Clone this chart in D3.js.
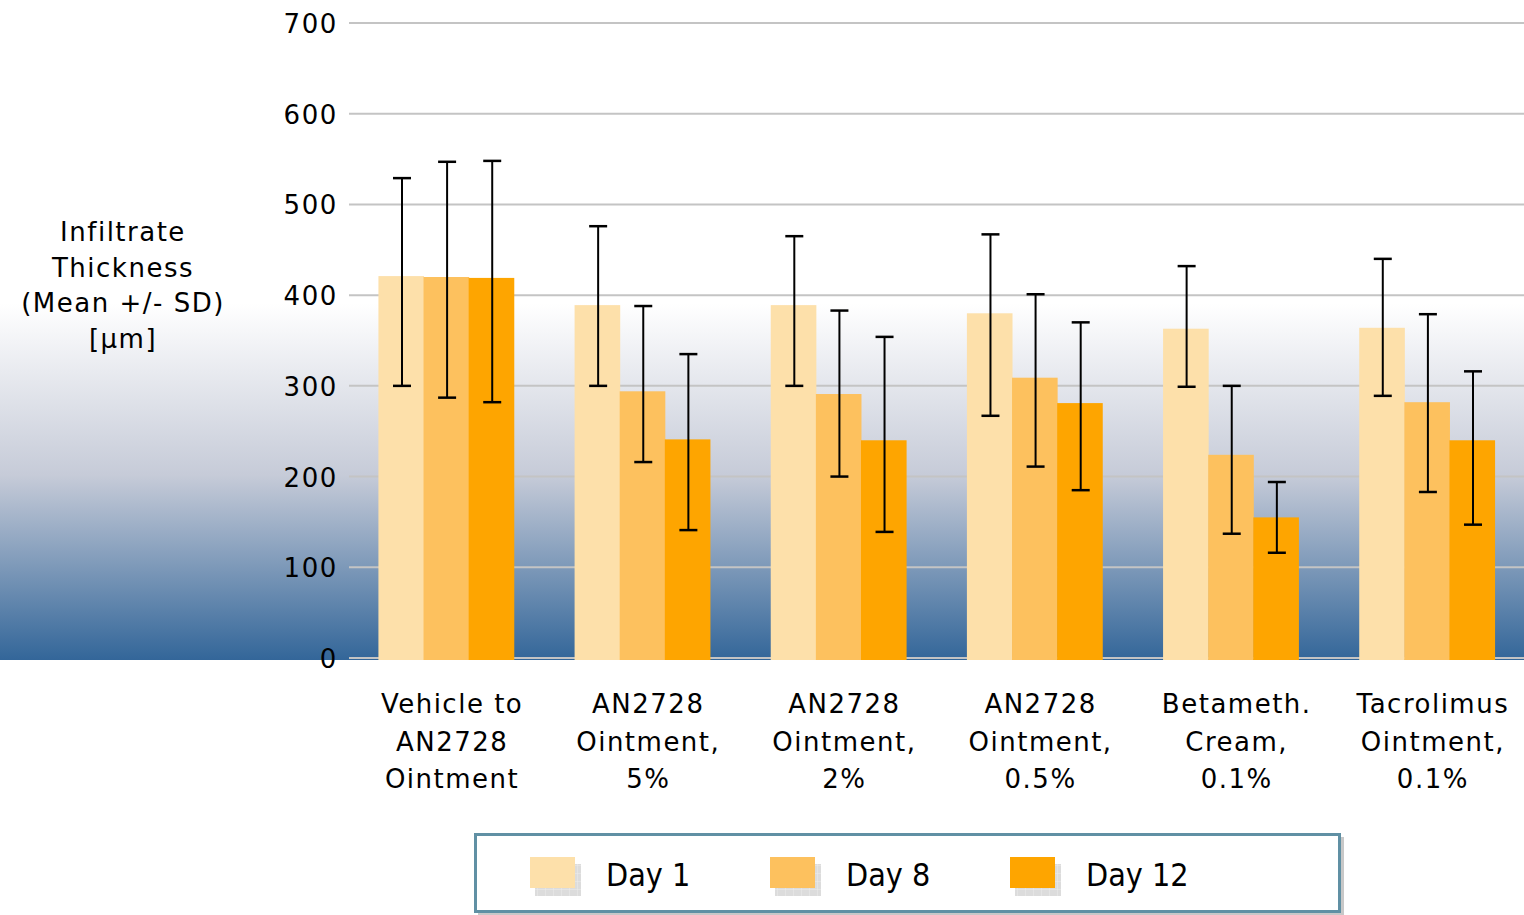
<!DOCTYPE html>
<html>
<head>
<meta charset="utf-8">
<script src="https://cdn.jsdelivr.net/npm/d3@7"></script>
<style>
  body { margin: 0; background: #fff; }
  svg { display: block; }
</style>
</head>
<body>
<svg width="1524" height="915"></svg>
<script>
(function() {

  var categories = [
    ["Vehicle to", "AN2728", "Ointment"],
    ["AN2728", "Ointment,", "5%"],
    ["AN2728", "Ointment,", "2%"],
    ["AN2728", "Ointment,", "0.5%"],
    ["Betameth.", "Cream,", "0.1%"],
    ["Tacrolimus", "Ointment,", "0.1%"]
  ];
  var seriesNames = ["Day 1", "Day 8", "Day 12"];
  var colors = ["#fde0aa", "#fdc15e", "#fea500"];

  // mean values per series
  var day1 = [421, 389, 389, 380, 363, 364];
  var day8 = [420, 294, 291, 309, 224, 282];
  var day12 = [419, 241, 240, 281, 155, 240];
  // error bar ends (upper / lower)
  var day1Hi = [529, 476, 465, 467, 432, 440];
  var day1Lo = [300, 300, 300, 267, 299, 289];
  var day8Hi = [547, 388, 383, 401, 300, 379];
  var day8Lo = [287, 216, 200, 211, 137, 183];
  var day12Hi = [548, 335, 354, 370, 194, 316];
  var day12Lo = [282, 141, 139, 185, 116, 147];

  var yTicks = [0, 100, 200, 300, 400, 500, 600, 700];

  var series = [
    {name: seriesNames[0], values: day1, hi: day1Hi, lo: day1Lo},
    {name: seriesNames[1], values: day8, hi: day8Hi, lo: day8Lo},
    {name: seriesNames[2], values: day12, hi: day12Hi, lo: day12Lo}
  ];

  var svg = d3.select('svg');
  var font = 'Verdana, "DejaVu Sans", sans-serif';

  // background gradient
  var defs = svg.append('defs');
  var grad = defs.append('linearGradient')
    .attr('id', 'bg').attr('x1', 0).attr('y1', 0).attr('x2', 0).attr('y2', 1);
  grad.append('stop').attr('offset', '0%').attr('stop-color', '#ffffff');
  grad.append('stop').attr('offset', '46%').attr('stop-color', '#ffffff');
  grad.append('stop').attr('offset', '72%').attr('stop-color', '#c6cbd8');
  grad.append('stop').attr('offset', '100%').attr('stop-color', '#336699');

  var y = d3.scaleLinear().domain([0, 700]).range([658, 23]);
  var x0 = d3.scaleBand().domain(d3.range(categories.length)).range([349, 1524]).paddingInner(0.31).paddingOuter(0.15);
  var x1 = d3.scaleBand().domain(d3.range(series.length)).range([0, x0.bandwidth()]);

  svg.append('rect')
    .attr('x', 0).attr('y', 0).attr('width', 1524).attr('height', 660)
    .attr('fill', 'url(#bg)');

  // gridlines + tick labels
  svg.selectAll('.grid').data(yTicks).enter().append('line')
    .attr('class', 'grid')
    .attr('x1', 349).attr('x2', 1524)
    .attr('y1', function(d) { return y(d); })
    .attr('y2', function(d) { return y(d); })
    .attr('stroke', '#c4c4c4').attr('stroke-width', 2);

  svg.selectAll('.tick').data(yTicks).enter().append('text')
    .attr('class', 'tick')
    .attr('x', 338)
    .attr('y', function(d) { return y(d) + 10; })
    .attr('text-anchor', 'end')
    .style('font-family', font).style('font-size', '26px').style('letter-spacing', '1.6px').attr('fill', '#000')
    .text(function(d) { return d; });

  // bars
  var groups = svg.selectAll('.grp').data(categories).enter().append('g')
    .attr('class', 'grp')
    .attr('transform', function(d, i) { return 'translate(' + x0(i) + ',0)'; });

  groups.selectAll('rect').data(function(d, i) {
      return series.map(function(s, j) { return {j: j, v: s.values[i], hi: s.hi[i], lo: s.lo[i]}; });
    })
    .enter().append('rect')
    .attr('x', function(d) { return x1(d.j); })
    .attr('width', x1.bandwidth() + 0.5)
    .attr('y', function(d) { return y(d.v); })
    .attr('height', function(d) { return 660 - y(d.v); })
    .attr('fill', function(d) { return colors[d.j]; });

  // error bars
  var err = groups.selectAll('.err').data(function(d, i) {
      return series.map(function(s, j) { return {j: j, v: s.values[i], hi: s.hi[i], lo: s.lo[i]}; });
    })
    .enter().append('g').attr('class', 'err')
    .attr('transform', function(d) { return 'translate(' + (x1(d.j) + x1.bandwidth() / 2 + 1) + ',0)'; });
  err.append('line')
    .attr('x1', 0).attr('x2', 0)
    .attr('y1', function(d) { return y(d.hi); })
    .attr('y2', function(d) { return y(d.lo); })
    .attr('stroke', '#000').attr('stroke-width', 2);
  err.append('line')
    .attr('x1', -9).attr('x2', 9)
    .attr('y1', function(d) { return y(d.hi); })
    .attr('y2', function(d) { return y(d.hi); })
    .attr('stroke', '#000').attr('stroke-width', 2.5);
  err.append('line')
    .attr('x1', -9).attr('x2', 9)
    .attr('y1', function(d) { return y(d.lo); })
    .attr('y2', function(d) { return y(d.lo); })
    .attr('stroke', '#000').attr('stroke-width', 2.5);

  // category labels
  var catLab = svg.selectAll('.cat').data(categories).enter().append('text')
    .attr('class', 'cat')
    .attr('text-anchor', 'middle')
    .style('font-family', font).style('font-size', '26px').style('letter-spacing', '1.5px').attr('fill', '#000');
  catLab.selectAll('tspan').data(function(d, i) { return d.map(function(t) { return {t: t, i: i}; }); })
    .enter().append('tspan')
    .attr('x', function(d) { return x0(d.i) + x0.bandwidth() / 2 + 6; })
    .attr('y', function(d, k) { return 713 + k * 37.5; })
    .text(function(d) { return d.t; });

  // y title
  var ytitle = ["Infiltrate", "Thickness", "(Mean +/- SD)", "[\u00b5m]"];
  svg.append('text')
    .attr('text-anchor', 'middle')
    .style('font-family', font).style('font-size', '26px').style('letter-spacing', '1.5px').attr('fill', '#000')
    .selectAll('tspan').data(ytitle).enter().append('tspan')
    .attr('x', 123)
    .attr('y', function(d, k) { return 241 + k * 35.5; })
    .text(function(d) { return d; });

  // legend
  var lg = svg.append('g');
  lg.append('rect').attr('x', 478).attr('y', 837).attr('width', 866).attr('height', 78).attr('fill', '#c8c8c8');
  lg.append('rect').attr('x', 475.5).attr('y', 834.5).attr('width', 864).attr('height', 77)
    .attr('fill', '#fff').attr('stroke', '#6090a4').attr('stroke-width', 3);

  var pat = defs.append('pattern').attr('id', 'chk').attr('width', 8).attr('height', 8).attr('patternUnits', 'userSpaceOnUse');
  pat.append('rect').attr('width', 8).attr('height', 8).attr('fill', '#dcdcdc');
  pat.append('path').attr('d', 'M0 0H8V8').attr('fill', 'none').attr('stroke', '#ececec').attr('stroke-width', 1);

  var item = lg.selectAll('.li').data(series).enter().append('g')
    .attr('class', 'li')
    .attr('transform', function(d, i) { return 'translate(' + (530 + i * 240) + ',857)'; });
  item.append('rect').attr('x', 5).attr('y', 7).attr('width', 46).attr('height', 32).attr('fill', 'url(#chk)');
  item.append('rect').attr('width', 45).attr('height', 31).attr('fill', function(d, i) { return colors[i]; });
  item.append('text')
    .attr('x', 76).attr('y', 29)
    .style('font-family', '"Liberation Sans Narrow", "DejaVu Sans Condensed", "Liberation Sans", sans-serif')
    .style('font-size', '32px').attr('fill', '#000')
    .text(function(d) { return d.name; });

})();
</script>
</body>
</html>
